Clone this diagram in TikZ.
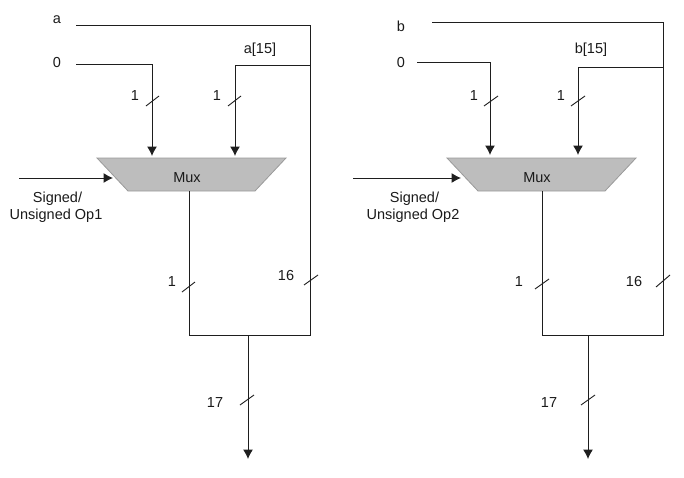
\documentclass[tikz,border=0pt]{standalone}
\usepackage{fontspec}
\setmainfont{Liberation Sans}
\usetikzlibrary{arrows.meta, shapes.geometric}
\definecolor{wire}{HTML}{1E1E1E}
\definecolor{muxfill}{HTML}{BDBDBD}
\definecolor{muxedge}{HTML}{9A9A9A}
\definecolor{labtext}{HTML}{1A1A1A}

\begin{document}
\begin{tikzpicture}[
    x=1pt, y=-1pt,
    every node/.style={font=\fontsize{14.5}{17.5}\selectfont, text=labtext},
    mux/.style={trapezium, shape border rotate=180, trapezium angle=46.8, draw=muxedge, fill=muxfill, thick, inner sep=0pt, text width=127pt, text height=24pt, text depth=9pt, align=center},
    flow/.style={-{Latex[length=9.5pt,width=10pt]}, line width=1pt, color=wire},
    wirepath/.style={line width=1pt, color=wire},
    slash/.style={line width=0.9pt, color=wire},
    flab/.style={align=center, inner sep=0pt}
]
\useasboundingbox (0,0) rectangle (684,477);

% Left muxes and labels
\node[mux] (mux1) at (191.5,174.5) {\hspace*{-9pt}Mux};
\node[flab] (a)    at (57,20)  {a};
\node[flab] (zero1) at (57,63) {0};
\node[flab] (a15)  at (260,49.5) {a[15]};
\node[flab] (sel1) at (56,207) {\hspace*{3pt}Signed/\\Unsigned Op1};
\node[flab] (w1a) at (135,96)  {1};
\node[flab] (w1b) at (217,96)  {1};
\node[flab] (w1c) at (172,282) {1};
\node[flab] (w1d) at (286,276) {16};
\node[flab] (w1e) at (215,403) {17};

% Left wire ends
\coordinate (afrom)   at (76,25);
\coordinate (acorner) at (310,25);
\coordinate (atap)    at (310,65);
\coordinate (ajoin)   at (310,335);
\coordinate (zfrom1)  at (76,64);
\coordinate (in1a)    at (152,156);
\coordinate (in1b)    at (235,156);
\coordinate (selfrom1) at (19,178);
\coordinate (selto1)  at (113,178);
\coordinate (out1)    at (189,191);
\coordinate (mjoin1)  at (189,335);
\coordinate (res1)    at (248,335);
\coordinate (end1)    at (248,459);

\draw[wirepath] (afrom) -- (acorner) -- (ajoin) -- (mjoin1) -- (out1);
\draw[flow] (zfrom1) -| (in1a);
\draw[flow] (atap) -| (in1b);
\draw[flow] (selfrom1) -- (selto1);
\draw[flow] (res1) -- (end1);

% Left bus marks
\draw[slash] (146,106) -- ++(13,-10);
\draw[slash] (228,106) -- ++(13,-10);
\draw[slash] (182,292) -- ++(13,-10);
\draw[slash] (304,285) -- ++(14,-10);
\draw[slash] (240,405) -- ++(14,-10);

% Right muxes and labels
\node[mux] (mux2) at (541.5,174.5) {\hspace*{-9pt}Mux};
\node[flab] (b)    at (401,26) {b};
\node[flab] (zero2) at (401,63) {0};
\node[flab] (b15)  at (591,49.5) {b[15]};
\node[flab] (sel2) at (413,207) {\hspace*{3pt}Signed/\\Unsigned Op2};
\node[flab] (w2a) at (474,96)  {1};
\node[flab] (w2b) at (561,96)  {1};
\node[flab] (w2c) at (519,282) {1};
\node[flab] (w2d) at (634,282) {16};
\node[flab] (w2e) at (549,403) {17};

% Right wire ends
\coordinate (bfrom)   at (432,22);
\coordinate (bcorner) at (663,22);
\coordinate (btap)    at (663,67);
\coordinate (bjoin)   at (663,335);
\coordinate (zfrom2)  at (417,62);
\coordinate (in2a)    at (490,155);
\coordinate (in2b)    at (578,155);
\coordinate (selfrom2) at (353,178);
\coordinate (selto2)  at (461,178);
\coordinate (out2)    at (542,191);
\coordinate (mjoin2)  at (542,335);
\coordinate (res2)    at (588,335);
\coordinate (end2)    at (588,459);

\draw[wirepath] (bfrom) -- (bcorner) -- (bjoin) -- (mjoin2) -- (out2);
\draw[flow] (zfrom2) -| (in2a);
\draw[flow] (btap) -| (in2b);
\draw[flow] (selfrom2) -- (selto2);
\draw[flow] (res2) -- (end2);

% Right bus marks
\draw[slash] (484,106) -- ++(14,-10);
\draw[slash] (571,106) -- ++(14,-10);
\draw[slash] (535,289) -- ++(14,-10);
\draw[slash] (656,287) -- ++(14,-12);
\draw[slash] (581,405) -- ++(14,-10);
\end{tikzpicture}
\end{document}
